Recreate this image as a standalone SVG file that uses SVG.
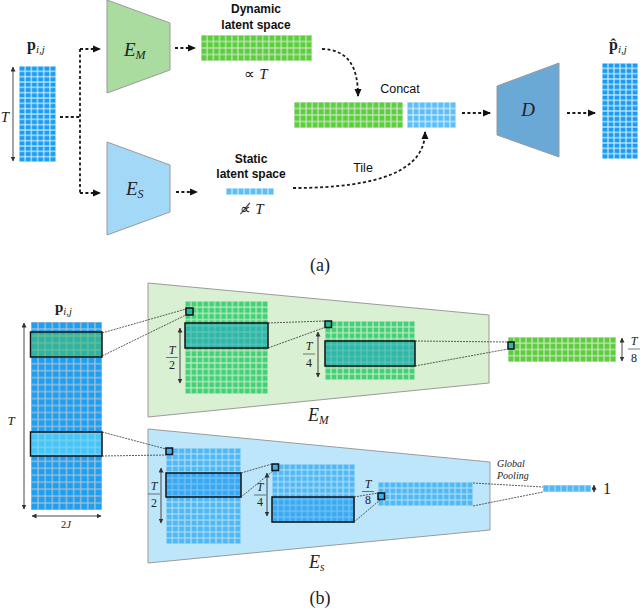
<svg xmlns="http://www.w3.org/2000/svg" width="640" height="609" viewBox="0 0 640 609">
<style>
.sans{font-family:"Liberation Sans",Arial,sans-serif;fill:#111}
.math{font-family:"Liberation Serif","Times New Roman",serif;font-style:italic;fill:#222}
.rm{font-family:"Liberation Serif","Times New Roman",serif;fill:#222}
.dash{fill:none;stroke:#1a1a1a;stroke-width:1.8;stroke-dasharray:3 2.4}
.dot{fill:none;stroke:#333;stroke-width:0.8;stroke-dasharray:2 1}
.dim{stroke:#333;stroke-width:0.9;marker-start:url(#dh);marker-end:url(#dh)}
.hl{stroke:#111;stroke-width:1.5}
.fl{stroke:#222;stroke-width:0.6}
.trap{stroke:#9a9a9a;stroke-width:1}
</style>
<defs>
<marker id="ah" markerWidth="8" markerHeight="8" refX="7" refY="4" orient="auto" markerUnits="userSpaceOnUse"><path d="M0,0.5 L8,4 L0,7.5z" fill="#111"/></marker>
<marker id="dh" markerWidth="5" markerHeight="5" refX="4.5" refY="2.5" orient="auto-start-reverse" markerUnits="userSpaceOnUse"><path d="M0,0 L5,2.5 L0,5z" fill="#333"/></marker>
<pattern id="t1" x="19" y="66" width="6.1667" height="5.3333" patternUnits="userSpaceOnUse"><rect width="6.1667" height="5.3333" fill="#169ff5" stroke="#d2e6f4" stroke-width="1.2"/></pattern>
<pattern id="t2" x="201" y="35" width="6.1667" height="6.5" patternUnits="userSpaceOnUse"><rect width="6.1667" height="6.5" fill="#5ad03a" stroke="#d0e2ca" stroke-width="1.2"/></pattern>
<pattern id="t3" x="226" y="188" width="6" height="7" patternUnits="userSpaceOnUse"><rect width="6" height="7" fill="#5cbff5" stroke="#d6ecf8" stroke-width="1.2"/></pattern>
<pattern id="t4" x="294" y="102" width="6.0556" height="6.5" patternUnits="userSpaceOnUse"><rect width="6.0556" height="6.5" fill="#5ad03a" stroke="#d0e2ca" stroke-width="1.2"/></pattern>
<pattern id="t5" x="407" y="102" width="6.125" height="6.5" patternUnits="userSpaceOnUse"><rect width="6.125" height="6.5" fill="#5cbff8" stroke="#d6ecf8" stroke-width="1.2"/></pattern>
<pattern id="t6" x="602" y="63" width="6" height="5.3333" patternUnits="userSpaceOnUse"><rect width="6" height="5.3333" fill="#169ff5" stroke="#d2e6f4" stroke-width="1.2"/></pattern>
<pattern id="b1" x="31" y="322" width="7.1" height="6.963" patternUnits="userSpaceOnUse"><rect width="7.1" height="6.963" fill="#1ba0f5" stroke="#b4c0c8" stroke-width="1.2"/></pattern>
<pattern id="g1" x="185" y="301" width="5.929" height="6.2" patternUnits="userSpaceOnUse"><rect width="5.929" height="6.2" fill="#42d276" stroke="#c4e8c8" stroke-width="1.2"/></pattern>
<pattern id="g2" x="325" y="321" width="6" height="5.9" patternUnits="userSpaceOnUse"><rect width="6" height="5.9" fill="#42d276" stroke="#c4e8c8" stroke-width="1.2"/></pattern>
<pattern id="g3" x="508" y="337" width="6" height="6.25" patternUnits="userSpaceOnUse"><rect width="6" height="6.25" fill="#5ccf3a" stroke="#d0e2ca" stroke-width="1.2"/></pattern>
<pattern id="s1" x="166" y="448" width="6.25" height="6" patternUnits="userSpaceOnUse"><rect width="6.25" height="6" fill="#4db9f7" stroke="#b0dcf2" stroke-width="1.2"/></pattern>
<pattern id="s2" x="272" y="464" width="5.929" height="5.9" patternUnits="userSpaceOnUse"><rect width="5.929" height="5.9" fill="#4db9f7" stroke="#b0dcf2" stroke-width="1.2"/></pattern>
<pattern id="s3" x="378" y="482" width="5.9375" height="6" patternUnits="userSpaceOnUse"><rect width="5.9375" height="6" fill="#4db9f7" stroke="#b0dcf2" stroke-width="1.2"/></pattern>
<pattern id="s4" x="543" y="485" width="6" height="7" patternUnits="userSpaceOnUse"><rect width="6" height="7" fill="#4db9f7" stroke="#b0dcf2" stroke-width="1.2"/></pattern>
</defs>
<rect width="640" height="609" fill="#fff"/>

<!-- ===== (a) ===== -->
<g id="input-a">
<text x="27" y="50"><tspan class="rm" font-weight="bold" font-size="16">p</tspan><tspan class="math" font-size="11" dy="3">i,j</tspan></text>
<rect x="19" y="66" width="37" height="96" fill="url(#t1)"/>
<line class="dim" x1="13" y1="67" x2="13" y2="161"/>
<text class="math" x="5" y="122" font-size="15" text-anchor="middle">T</text>
</g>
<g id="encoder-m">
<polygon class="trap" points="107,0 170,23 170,70 107,93" fill="#a9dc9e"/>
<text class="math" x="124" y="56" font-size="19">E<tspan font-size="12" dy="3">M</tspan></text>
</g>
<g id="encoder-s">
<polygon class="trap" points="107,142 170,165 170,212 107,235" fill="#a4d8f7"/>
<text class="math" x="126" y="195" font-size="19">E<tspan font-size="12" dy="3">S</tspan></text>
</g>
<g id="dynamic-latent">
<text class="sans" x="256" y="13" font-size="12" font-weight="bold" text-anchor="middle">Dynamic</text>
<text class="sans" x="256" y="29" font-size="12" font-weight="bold" text-anchor="middle">latent space</text>
<rect x="201" y="35" width="111" height="26" fill="url(#t2)"/>
<text x="256" y="79" font-size="15" text-anchor="middle"><tspan class="rm">∝ </tspan><tspan class="math">T</tspan></text>
</g>
<g id="static-latent">
<text class="sans" x="251" y="163" font-size="12" font-weight="bold" text-anchor="middle">Static</text>
<text class="sans" x="251" y="178" font-size="12" font-weight="bold" text-anchor="middle">latent space</text>
<rect x="226" y="188" width="48" height="7" fill="url(#t3)"/>
<text x="252" y="214" font-size="15" text-anchor="middle"><tspan class="rm">∝̸ </tspan><tspan class="math">T</tspan></text>
</g>
<g id="concat">
<text class="sans" x="400" y="93" font-size="12.5" text-anchor="middle">Concat</text>
<rect x="294" y="102" width="109" height="26" fill="url(#t4)"/>
<rect x="407" y="102" width="49" height="26" fill="url(#t5)"/>
</g>
<g id="decoder">
<polygon class="trap" points="497,86 559,63 559,157 497,135" fill="#6aa9d6"/>
<text class="math" x="528" y="116" font-size="19" text-anchor="middle">D</text>
</g>
<g id="output-a">
<text x="609" y="50"><tspan class="rm" font-weight="bold" font-size="16">p̂</tspan><tspan class="math" font-size="11" dy="3">i,j</tspan></text>
<rect x="602" y="63" width="36" height="96" fill="url(#t6)"/>
</g>
<g id="tile-label">
<text class="sans" x="363" y="172" font-size="12.5" text-anchor="middle">Tile</text>
</g>
<g id="connectors-a">
<path class="dash" d="M60,117 H80 M80,49 V193"/>
<path class="dash" d="M80,49 H100" marker-end="url(#ah)"/>
<path class="dash" d="M80,193 H100" marker-end="url(#ah)"/>
<path class="dash" d="M175,48 H195" marker-end="url(#ah)"/>
<path class="dash" d="M176,192 H197" marker-end="url(#ah)"/>
<path class="dash" d="M322,49 C348,50 358,66 358,96" marker-end="url(#ah)"/>
<path class="dash" d="M293,188 C380,188 425,170 425,132" marker-end="url(#ah)"/>
<path class="dash" d="M462,113 H490" marker-end="url(#ah)"/>
<path class="dash" d="M567,113 H595" marker-end="url(#ah)"/>
</g>
<text class="rm" x="320" y="271" font-size="18" text-anchor="middle">(a)</text>

<!-- ===== (b) ===== -->
<g id="input-b">
<text x="55" y="312"><tspan class="rm" font-weight="bold" font-size="15">p</tspan><tspan class="math" font-size="10.5" dy="3">i,j</tspan></text>
<rect x="31" y="322" width="71" height="188" fill="url(#b1)"/>
<rect class="hl" x="30.5" y="332" width="71.5" height="25" fill="#40c070" fill-opacity="0.6"/>
<rect class="hl" x="30.5" y="432" width="71.5" height="24" fill="#60e0ff" fill-opacity="0.6"/>
<line class="dim" x1="24" y1="323" x2="24" y2="509"/>
<text class="math" x="11" y="425" font-size="13" text-anchor="middle">T</text>
<line class="dim" x1="32" y1="516" x2="101" y2="516"/>
<text x="66" y="528" font-size="10.5" text-anchor="middle"><tspan class="rm">2</tspan><tspan class="math">J</tspan></text>
</g>
<g id="encoder-m-detail">
<polygon class="trap" points="148,283 489,315 489,383 148,417" fill="#d9f0d2"/>
<rect x="185" y="301" width="83" height="93" fill="url(#g1)"/>
<rect class="hl" x="185" y="323" width="83" height="25" fill="#20a8c0" fill-opacity="0.6"/>
<rect class="hl" x="186" y="308" width="7" height="7" fill="#2ab8a0"/>
<line class="dim" x1="180" y1="328" x2="180" y2="383"/>
<text class="math" x="172" y="354" font-size="12" text-anchor="middle">T</text>
<line class="fl" x1="166" y1="357.5" x2="178" y2="357.5"/>
<text class="rm" x="172" y="369" font-size="12" text-anchor="middle">2</text>
<rect x="325" y="321" width="90" height="59" fill="url(#g2)"/>
<rect class="hl" x="325" y="341" width="90" height="25" fill="#20a8c0" fill-opacity="0.6"/>
<rect class="hl" x="325" y="321" width="6.5" height="6.5" fill="#2ab8a0"/>
<line class="dim" x1="318" y1="332" x2="318" y2="377"/>
<text class="math" x="309" y="350" font-size="12" text-anchor="middle">T</text>
<line class="fl" x1="303" y1="354" x2="315" y2="354"/>
<text class="rm" x="309" y="367" font-size="12" text-anchor="middle">4</text>
<text class="math" x="308" y="421" font-size="18">E<tspan font-size="11.5" dy="3">M</tspan></text>
</g>
<g id="dynamic-output-b">
<rect x="508" y="337" width="108" height="25" fill="url(#g3)"/>
<rect class="hl" x="508" y="342" width="6" height="7" fill="#2ab8a0"/>
<line class="dim" x1="622" y1="338" x2="622" y2="361"/>
<text class="math" x="634" y="345" font-size="12" text-anchor="middle">T</text>
<line class="fl" x1="628" y1="349" x2="640" y2="349"/>
<text class="rm" x="634" y="362" font-size="12" text-anchor="middle">8</text>
</g>
<g id="encoder-s-detail">
<polygon class="trap" points="148,429 490,462 490,530 148,563" fill="#bee6fa"/>
<rect x="166" y="448" width="75" height="96" fill="url(#s1)"/>
<rect class="hl" x="166" y="473" width="75" height="24" fill="#1090f0" fill-opacity="0.35"/>
<rect class="hl" x="166" y="448" width="6.5" height="6.5" fill="#3ab0f5"/>
<line class="dim" x1="161" y1="468" x2="161" y2="523"/>
<text class="math" x="154" y="490" font-size="12" text-anchor="middle">T</text>
<line class="fl" x1="148" y1="494" x2="160" y2="494"/>
<text class="rm" x="154" y="507" font-size="12" text-anchor="middle">2</text>
<rect x="272" y="464" width="83" height="59" fill="url(#s2)"/>
<rect class="hl" x="272" y="497" width="82" height="25" fill="#1090f0" fill-opacity="0.35"/>
<rect class="hl" x="272" y="464" width="6.5" height="6.5" fill="#3ab0f5"/>
<line class="dim" x1="267" y1="473" x2="267" y2="516"/>
<text class="math" x="260" y="491" font-size="12" text-anchor="middle">T</text>
<line class="fl" x1="254" y1="495" x2="266" y2="495"/>
<text class="rm" x="260" y="506" font-size="12" text-anchor="middle">4</text>
<rect x="378" y="482" width="95" height="24" fill="url(#s3)"/>
<rect class="hl" x="378" y="493" width="6.5" height="6.5" fill="#3ab0f5"/>
<text class="math" x="368" y="488" font-size="12" text-anchor="middle">T</text>
<line class="fl" x1="362" y1="491.5" x2="374" y2="491.5"/>
<text class="rm" x="368" y="504" font-size="12" text-anchor="middle">8</text>
<text class="math" x="309" y="568" font-size="18">E<tspan font-size="11.5" dy="3">s</tspan></text>
</g>
<g id="global-pooling">
<text class="math" x="497" y="467" font-size="10">Global</text>
<text class="math" x="497" y="479" font-size="10">Pooling</text>
<rect x="543" y="485" width="48" height="7" fill="url(#s4)"/>
<line class="dim" x1="594" y1="485" x2="594" y2="492" style="stroke-width:0.8"/>
<text class="rm" x="603" y="494" font-size="16">1</text>
</g>
<g id="connectors-b">
<path class="dot" d="M102,333 L186,309 M102,356 L186,315"/>
<path class="dot" d="M268,323 L325,321 M268,348 L326,327"/>
<path class="dot" d="M415,341 L508,342 M415,366 L508,349"/>
<path class="dot" d="M102,432 L166,449 M102,456 L166,455"/>
<path class="dot" d="M241,473 L272,464 M241,497 L273,471"/>
<path class="dot" d="M354,497 L378,493 M354,522 L380,500"/>
<path class="dot" d="M473,483 L543,487 M473,506 L543,492"/>
</g>
<text class="rm" x="320" y="604" font-size="18" text-anchor="middle">(b)</text>
</svg>
